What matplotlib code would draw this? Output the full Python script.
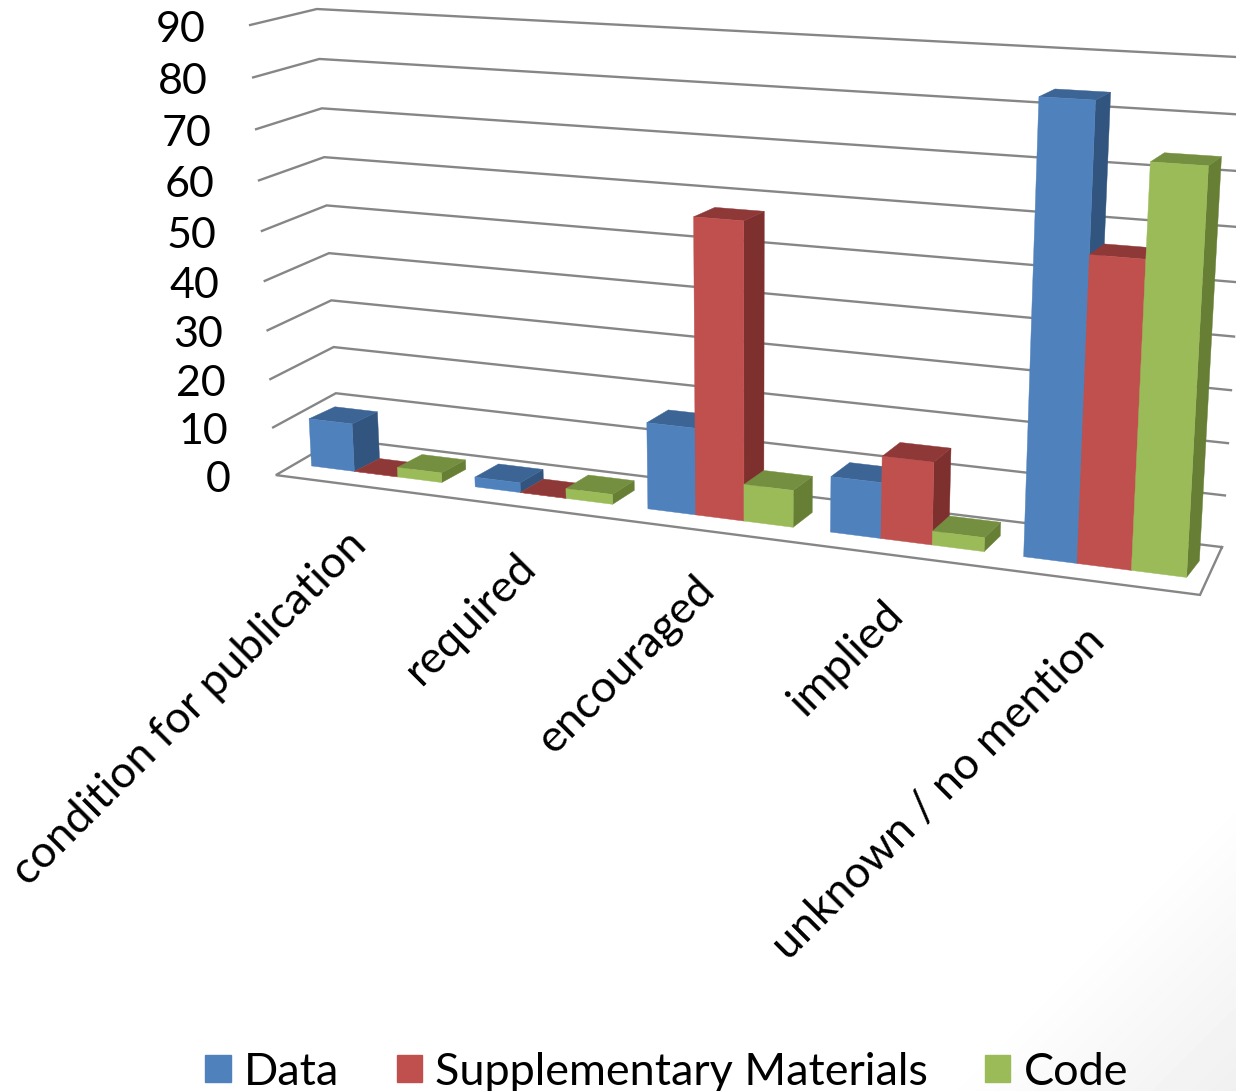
import numpy as np
import matplotlib
matplotlib.use("Agg")
import matplotlib.pyplot as plt
from matplotlib.patches import Patch, Polygon

# DATA
categories = ["condition for publication", "required", "encouraged", "implied", "unknown / no mention"]
data_values = [10, 2, 17.3, 10.9, 84]
supplementary_values = [0, 0, 58, 16, 57]
code_values = [2, 2, 7.3, 2.7, 74]
y_ticks = [0, 10, 20, 30, 40, 50, 60, 70, 80, 90]

# (front face, top face, side face)
blue = ("#4F81BD", "#3C6595", "#32557F")
red = ("#C0504D", "#8E3937", "#7D302E")
green = ("#9BBB59", "#758F40", "#667F35")
grid_color = "#868686"

plt.rcParams["font.family"] = ["Lato", "DejaVu Sans"]

# CAMERA: cat position, value, depth -> image pixels, fitted on the chart box corners
box_points = [
    (0, 0, 0, 276, 475), (0, 90, 0, 250, 25), (5, 0, 0, 1200, 595),
    (0, 0, 1, 338, 439), (0, 90, 1, 317, 9), (5, 0, 1, 1222, 547), (5, 90, 1, 1250, 57.7),
]
rows, rhs = [], []
for cx, cy, cz, px, py in box_points:
    rows.append([cx, cy, cz, 1, 0, 0, 0, 0, -px * cx, -px * cy, -px * cz])
    rows.append([0, 0, 0, 0, cx, cy, cz, 1, -py * cx, -py * cy, -py * cz])
    rhs += [px, py]
cam = np.append(np.linalg.lstsq(np.array(rows, float), np.array(rhs, float), rcond=None)[0], 1).reshape(3, 4)


def project(x, v, z):
    p = cam @ np.array([x, v, z, 1.0])
    return p[0] / p[2], p[1] / p[2]


fig = plt.figure(figsize=(12.36, 10.91), dpi=100)
ax = fig.add_axes([0, 0, 1, 1])

# faint grey in the bottom right corner of the slide
gx, gy = np.meshgrid(np.arange(1236), np.arange(1091))
shade = 1 - 0.06 * np.clip(1 + ((gx - 1236) + (gy - 1091)) / 300, 0, 1)
ax.imshow(shade, cmap="gray", vmin=0, vmax=1, extent=(0, 1236, 1091, 0), zorder=0, aspect="auto")

ax.set_xlim(0, 1236)
ax.set_ylim(1091, 0)
ax.axis("off")

# WALLS
for v in y_ticks:
    pts = [project(0, v, 0), project(0, v, 1), project(5, v, 1)]
    if v == 0:
        pts = [project(5, 0, 1), project(5, 0, 0), project(0, 0, 0), project(0, 0, 1), project(5, 0, 1)]
    ax.plot(*zip(*pts), color=grid_color, lw=1.7, solid_joinstyle="miter", zorder=1)
    lx, ly = project(0, v, 0)
    ax.text(lx - 45, ly + 5, str(v), fontsize=31, ha="right", va="center", color="black")

# BARS
bar_w = 1 / 3.75
gap = 0.103
z0, z1 = 0.30, 0.66
back_shift = 0.022  # bars lean a little more than the floor does
order = 2
for i, cat in enumerate(categories):
    for j, (vals, cols) in enumerate(zip([data_values, supplementary_values, code_values], [blue, red, green])):
        x0 = i + gap + j * bar_w
        x1 = x0 + bar_w
        v = vals[i]
        front = [project(x0, 0, z0), project(x1, 0, z0), project(x1, v, z0), project(x0, v, z0)]
        top = [project(x0, v, z0), project(x1, v, z0), project(x1 + back_shift, v, z1), project(x0 + back_shift, v, z1)]
        side = [project(x1, 0, z0), project(x1 + back_shift, 0, z1), project(x1 + back_shift, v, z1), project(x1, v, z0)]
        for pts, c in zip([side, top, front], [cols[2], cols[1], cols[0]]):
            ax.add_patch(Polygon(pts, closed=True, facecolor=c, edgecolor=c, lw=0.3, zorder=order))
            order += 1

# CATEGORY LABELS
for i, cat in enumerate(categories):
    lx, ly = project(i + 0.5, 0, 0)
    ax.annotate(cat, (lx, ly), xytext=(-8.5, -27.5), textcoords="offset points", fontsize=32.2,
                rotation=45, rotation_mode="anchor", ha="right", va="top", zorder=100)

# LEGEND
handles = [Patch(color=blue[0]), Patch(color=red[0]), Patch(color=green[0])]
fig.legend(handles, ["Data", "Supplementary Materials", "Code"], ncols=3, frameon=False, fontsize=32.4,
           loc="lower left", bbox_to_anchor=(0.148, -0.022), handlelength=0.56, handleheight=0.56,
           handletextpad=0.3, columnspacing=1.27, borderpad=0)

plt.savefig("out.png", dpi=100)
